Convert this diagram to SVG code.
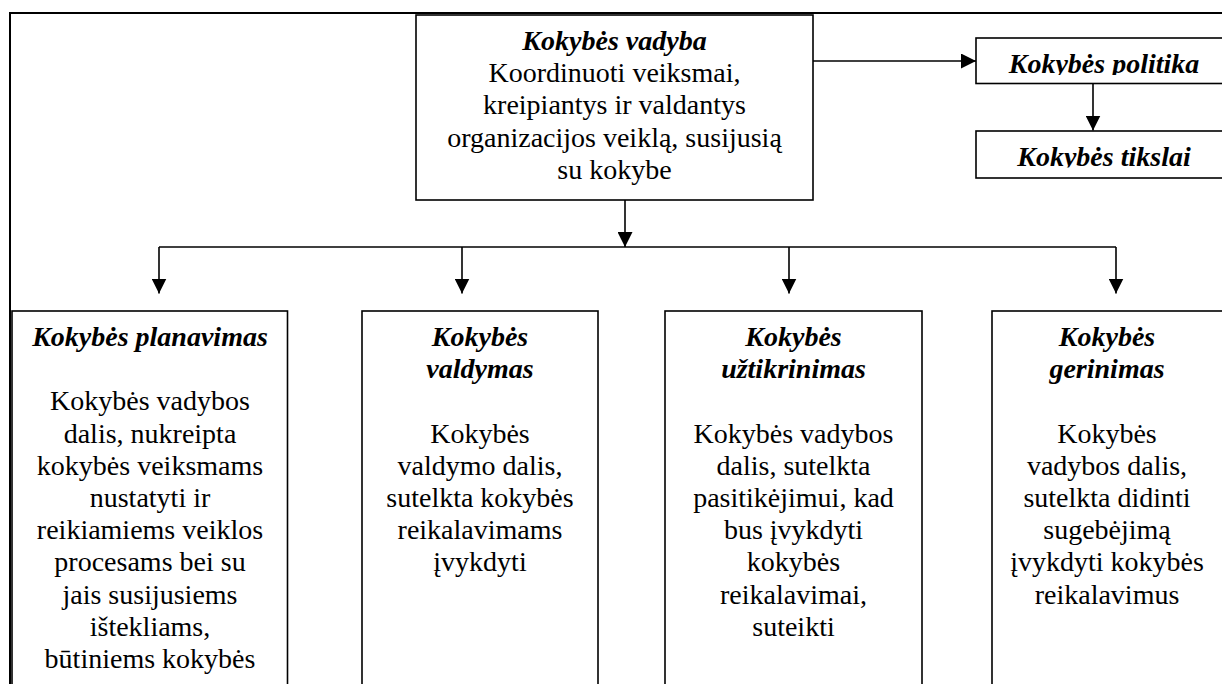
<svg xmlns="http://www.w3.org/2000/svg" width="1222" height="684" viewBox="0 0 1222 684">
<style>
.box{fill:#fff;stroke:#000;stroke-width:1.6}
.frame{fill:none;stroke:#000;stroke-width:2}
.ln{fill:none;stroke:#000;stroke-width:1.6}
text{font-family:"Liberation Serif","Times New Roman",serif;font-size:28px;fill:#000;text-anchor:middle}
.t{font-weight:bold;font-style:italic}
</style>
<defs>
<marker id="ah" viewBox="0 0 15 15" refX="15" refY="7.5" markerWidth="15" markerHeight="15" markerUnits="userSpaceOnUse" orient="auto"><path d="M0,0 L15,7.5 L0,15 z" fill="#000"/></marker>
<clipPath id="cp1"><rect x="976" y="38" width="260" height="37"/></clipPath>
<clipPath id="cp2"><rect x="976" y="131" width="260" height="36.5"/></clipPath>
</defs>
<rect width="1222" height="684" fill="#fff"/>
<path class="frame" d="M10,684 L10,13 L1222,13"/>
<g id="connectors">
<path class="ln" d="M813,61 L976,61" marker-end="url(#ah)"/>
<path class="ln" d="M1093,83.5 L1093,130.5" marker-end="url(#ah)"/>
<path class="ln" d="M625,200 L625,247" marker-end="url(#ah)"/>
<path class="ln" d="M159,247 L1116,247"/>
<path class="ln" d="M159,247 L159,293.5" marker-end="url(#ah)"/>
<path class="ln" d="M462,247 L462,293.5" marker-end="url(#ah)"/>
<path class="ln" d="M789,247 L789,293.5" marker-end="url(#ah)"/>
<path class="ln" d="M1116,247 L1116,293.5" marker-end="url(#ah)"/>
</g>
<g id="vadyba">
<rect class="box" x="416" y="15" width="397" height="185"/>
<text x="614.5" y="50" class="t">Kokybės vadyba</text>
<text x="614.5" y="82.2">Koordinuoti veiksmai,</text>
<text x="614.5" y="114.4">kreipiantys ir valdantys</text>
<text x="614.5" y="146.6">organizacijos veiklą, susijusią</text>
<text x="614.5" y="178.8">su kokybe</text>
</g>
<g id="politika">
<rect class="box" x="976" y="38" width="260" height="45.5"/>
<text x="1104" y="73" class="t" clip-path="url(#cp1)">Kokybės politika</text>
</g>
<g id="tikslai">
<rect class="box" x="976" y="131" width="260" height="47"/>
<text x="1104" y="165.5" class="t" clip-path="url(#cp2)">Kokybės tikslai</text>
</g>
<g id="planavimas">
<rect class="box" x="12" y="311" width="275.5" height="400"/>
<text x="150" y="346" class="t">Kokybės planavimas</text>
<text x="150" y="410.4">Kokybės vadybos</text>
<text x="150" y="442.6">dalis, nukreipta</text>
<text x="150" y="474.8">kokybės veiksmams</text>
<text x="150" y="507">nustatyti ir</text>
<text x="150" y="539.2">reikiamiems veiklos</text>
<text x="150" y="571.4">procesams bei su</text>
<text x="150" y="603.6">jais susijusiems</text>
<text x="150" y="635.8">ištekliams,</text>
<text x="150" y="668">būtiniems kokybės</text>
</g>
<g id="valdymas">
<rect class="box" x="362" y="311" width="236" height="400"/>
<text x="480" y="346" class="t">Kokybės</text>
<text x="480" y="378.2" class="t">valdymas</text>
<text x="480" y="442.6">Kokybės</text>
<text x="480" y="474.8">valdymo dalis,</text>
<text x="480" y="507">sutelkta kokybės</text>
<text x="480" y="539.2">reikalavimams</text>
<text x="480" y="571.4">įvykdyti</text>
</g>
<g id="uztikrinimas">
<rect class="box" x="665" y="311" width="257" height="400"/>
<text x="793.5" y="346" class="t">Kokybės</text>
<text x="793.5" y="378.2" class="t">užtikrinimas</text>
<text x="793.5" y="442.6">Kokybės vadybos</text>
<text x="793.5" y="474.8">dalis, sutelkta</text>
<text x="793.5" y="507">pasitikėjimui, kad</text>
<text x="793.5" y="539.2">bus įvykdyti</text>
<text x="793.5" y="571.4">kokybės</text>
<text x="793.5" y="603.6">reikalavimai,</text>
<text x="793.5" y="635.8">suteikti</text>
</g>
<g id="gerinimas">
<rect class="box" x="992" y="311" width="240" height="400"/>
<text x="1107" y="346" class="t">Kokybės</text>
<text x="1107" y="378.2" class="t">gerinimas</text>
<text x="1107" y="442.6">Kokybės</text>
<text x="1107" y="474.8">vadybos dalis,</text>
<text x="1107" y="507">sutelkta didinti</text>
<text x="1107" y="539.2">sugebėjimą</text>
<text x="1107" y="571.4">įvykdyti kokybės</text>
<text x="1107" y="603.6">reikalavimus</text>
</g>
</svg>
